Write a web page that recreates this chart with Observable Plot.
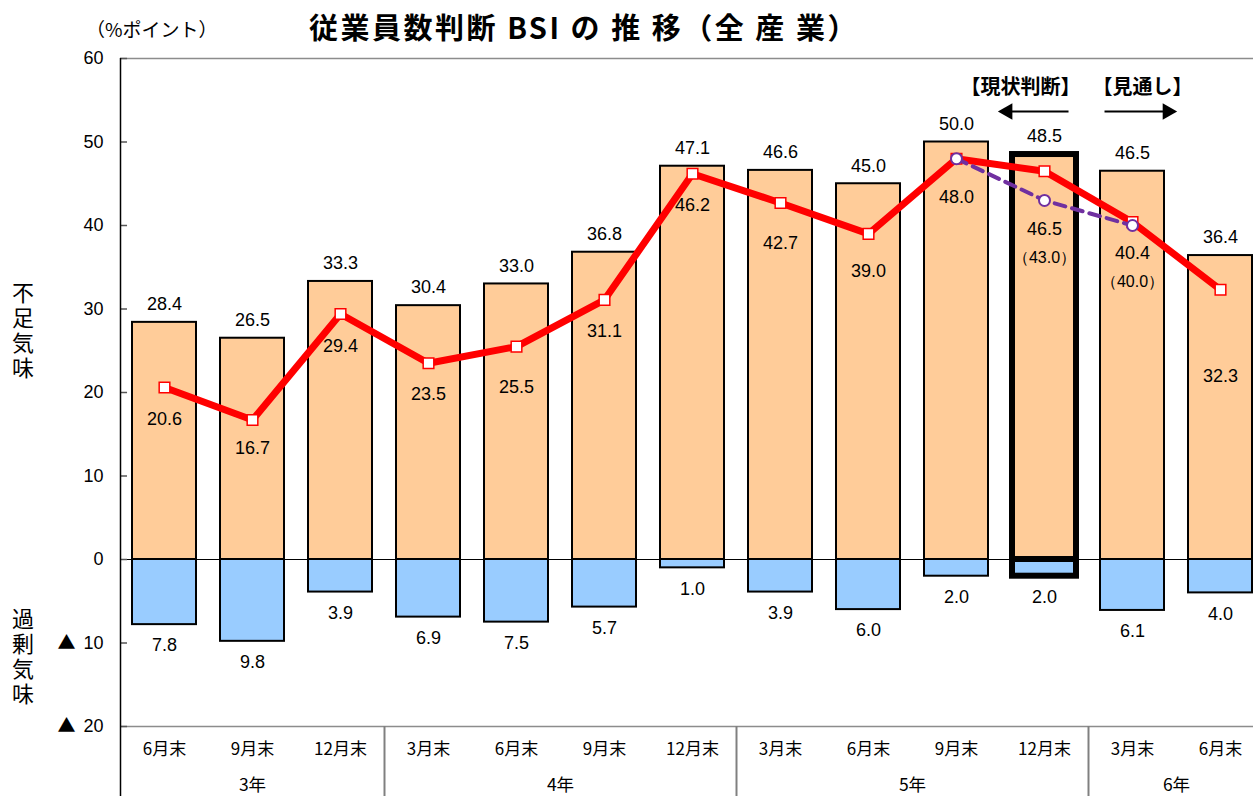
<!DOCTYPE html>
<html><head><meta charset="utf-8">
<script src="https://cdn.jsdelivr.net/npm/d3@7"></script>
<script src="https://cdn.jsdelivr.net/npm/@observablehq/plot@0.6"></script>
<style>
html,body{margin:0;padding:0;overflow:hidden;background:#fff;width:1253px;height:796px;}
#wrap{position:relative;width:1253px;height:796px;overflow:hidden;}
#chart{position:absolute;left:0;top:0;}
.t{position:absolute;white-space:nowrap;font-family:"Noto Sans CJK JP",sans-serif;color:#000;line-height:1;}
.v{writing-mode:vertical-rl;font-size:22px;letter-spacing:3px;}
</style></head><body><div id="wrap">
<div id="chart"></div>
<div class="t" style="left:584px;top:12px;transform:translateX(-50%);font-size:29px;font-weight:bold;letter-spacing:2.5px;">従業員数判断 BSI の 推 移（全 産 業）</div>
<div class="t" style="left:86px;top:19px;font-size:19px;">（%ポイント）</div>
<div class="t v" style="left:12px;top:282px;">不足気味</div>
<div class="t v" style="left:12px;top:608px;">過剰気味</div>
</div>
<script>
// ---- data ----
const months = ["6月末","9月末","12月末","3月末","6月末","9月末","12月末","3月末","6月末","9月末","12月末","3月末","6月末"];
const years = ["3年","4年","5年","6年"];
const quartersPerYear = [3,4,4,2];
const shortage = [28.4,26.5,33.3,30.4,33.0,36.8,47.1,46.6,45.0,50.0,48.5,46.5,36.4];
const surplus = [7.8,9.8,3.9,6.9,7.5,5.7,1.0,3.9,6.0,2.0,2.0,6.1,4.0];
const bsi = [20.6,16.7,29.4,23.5,25.5,31.1,46.2,42.7,39.0,48.0,46.5,40.4,32.3];
const prevIdx = [9,10,11];
const prevValues = [48.0,43.0,40.0];
const yTicks = [60,50,40,30,20,10,0,-10,-20];
const currentIdx = 10;

// ---- layout (label offsets, px) ----
const bsiLabelDy = [32,28,32,31,41,31,32,40,37,39,58,31,86];

const rows = months.map((m,i)=>({i, month:m, shortage:shortage[i], surplus:-surplus[i], bsi:bsi[i]}));
const prevRows = prevIdx.map((i,k)=>({i, v:prevValues[k], bsi:bsi[i]}));
const prevLabelRows = prevRows.filter(d=>d.i!==9);
let acc = 0;
const yearRows = years.map((y,k)=>{const r={year:y, mid:acc+quartersPerYear[k]/2, start:acc}; acc+=quartersPerYear[k]; return r;});
const cx = d => d.i + 0.5;
const ORANGE = "#FFCC99", BLUE = "#99CCFF";
const num = "Liberation Sans, Arial, sans-serif";
const jp = "Noto Sans CJK JP, sans-serif";
const normal = rows.filter(d=>d.i!==currentIdx);
const cur = rows.filter(d=>d.i===currentIdx);

function offsetRender(data, extra) {
  return (index, scales, values, dims, ctx, next) => {
    const g = next(index, scales, values, dims, ctx);
    d3.select(g).selectAll("text").each(function(_, k){
      const i = index[k];
      d3.select(this).attr("transform", `translate(${values.x[i]},${values.y[i] + bsiLabelDy[data[i].i] + extra})`);
    });
    return g;
  };
}

const chart = Plot.plot({
  width: 1253, height: 796,
  marginLeft: 120, marginRight: 0, marginTop: 58, marginBottom: 70,
  style: {fontFamily: num, fontSize: "18px", background: "white", overflow: "visible"},
  x: {type: "linear", domain: [0, 13], range: [120, 1264], axis: null},
  y: {domain: [-20, 60], range: [726, 58], axis: null},
  marks: [
    Plot.ruleY([60, -20], {stroke: "#8c8c8c", strokeWidth: 1.5}),
    Plot.ruleY([0], {stroke: "#000", strokeWidth: 1}),
    Plot.ruleY(yTicks, {x1: 0, x2: 0.08, stroke: "#555", strokeWidth: 1.5}),
    Plot.ruleX([0], {y1: 60, y2: -20, insetBottom: -70, stroke: "#000", strokeWidth: 1.5}),
    Plot.ruleX(yearRows.slice(1), {x: "start", y1: -20, y2: -20, insetBottom: -70, stroke: "#808080", strokeWidth: 2}),
    Plot.axisY({ticks: yTicks, tickSize: 0, tickPadding: 17, fontSize: 18, fontFamily: num,
      tickFormat: d => String(Math.abs(d))}),
    Plot.text(yTicks.filter(d=>d<0), {x: 0, y: d=>d, text: () => "▲", dx: -54, fontSize: 18, fontFamily: jp}),
    // bars
    Plot.rectY(normal, {x1: d=>d.i, x2: d=>d.i+1, y1: 0, y2: "shortage", insetLeft: 12, insetRight: 12, fill: ORANGE, stroke: "#000", strokeWidth: 2}),
    Plot.rectY(normal, {x1: d=>d.i, x2: d=>d.i+1, y1: 0, y2: "surplus", insetLeft: 12, insetRight: 12, fill: BLUE, stroke: "#000", strokeWidth: 2}),
    Plot.rectY(cur, {x1: d=>d.i, x2: d=>d.i+1, y1: 0, y2: "shortage", insetLeft: 12, insetRight: 12, fill: ORANGE, stroke: "#000", strokeWidth: 6}),
    Plot.rectY(cur, {x1: d=>d.i, x2: d=>d.i+1, y1: 0, y2: "surplus", insetLeft: 12, insetRight: 12, fill: BLUE, stroke: "#000", strokeWidth: 6}),
    // bar labels
    Plot.text(rows, {x: cx, y: "shortage", text: d=>d.shortage.toFixed(1), dy: -18, fontSize: 18, fontFamily: num}),
    Plot.text(rows, {x: cx, y: "surplus", text: d=>(-d.surplus).toFixed(1), dy: 21, fontSize: 18, fontFamily: num}),
    // BSI line
    Plot.line(rows, {x: cx, y: "bsi", stroke: "#FF0000", strokeWidth: 7, strokeLinejoin: "round"}),
    Plot.dot(rows, {x: cx, y: "bsi", symbol: "square", r: 6, fill: "white", stroke: "#FF0000", strokeWidth: 1.5}),
    // previous forecast (dashed)
    Plot.line(prevRows, {x: cx, y: "v", stroke: "#7030A0", strokeWidth: 4, strokeDasharray: "11,7"}),
    Plot.dot(prevRows, {x: cx, y: "v", r: 5.5, fill: "white", stroke: "#7030A0", strokeWidth: 2}),
    // BSI labels
    Plot.text(rows, {x: cx, y: "bsi", text: d=>d.bsi.toFixed(1), fontSize: 18, fontFamily: num, render: offsetRender(rows, 0)}),
    Plot.text(prevLabelRows, {x: cx, y: "bsi", text: d=>"（" + d.v.toFixed(1) + "）", fontSize: 16, fontFamily: num, render: offsetRender(prevLabelRows, 29)}),
    // category axis
    Plot.text(rows, {x: cx, y: -20, text: "month", dy: 23, fontSize: 17, fontFamily: jp}),
    Plot.text(yearRows, {x: "mid", y: -20, text: "year", dy: 59, fontSize: 17.5, fontFamily: jp}),
    // annotations
    Plot.text(["【現状判断】"], {x: 10.227, y: 56.5, text: d=>d, fontSize: 20, fontWeight: "bold", fontFamily: jp}),
    Plot.text(["【見通し】"], {x: 11.614, y: 56.5, text: d=>d, fontSize: 20, fontWeight: "bold", fontFamily: jp}),
    Plot.link([0], {x1: 10.773, x2: 10.1, y1: 53.65, y2: 53.65, stroke: "#000", strokeWidth: 2}),
    Plot.dot([0], {x: 10.08, y: 53.65, symbol: "triangle", rotate: -90, r: 6.2, fill: "#000", stroke: "none"}),
    Plot.link([0], {x1: 11.182, x2: 11.88, y1: 53.65, y2: 53.65, stroke: "#000", strokeWidth: 2}),
    Plot.dot([0], {x: 11.898, y: 53.65, symbol: "triangle", rotate: 90, r: 6.2, fill: "#000", stroke: "none"})
  ]
});
document.getElementById("chart").appendChild(chart);
</script>
</body></html>
